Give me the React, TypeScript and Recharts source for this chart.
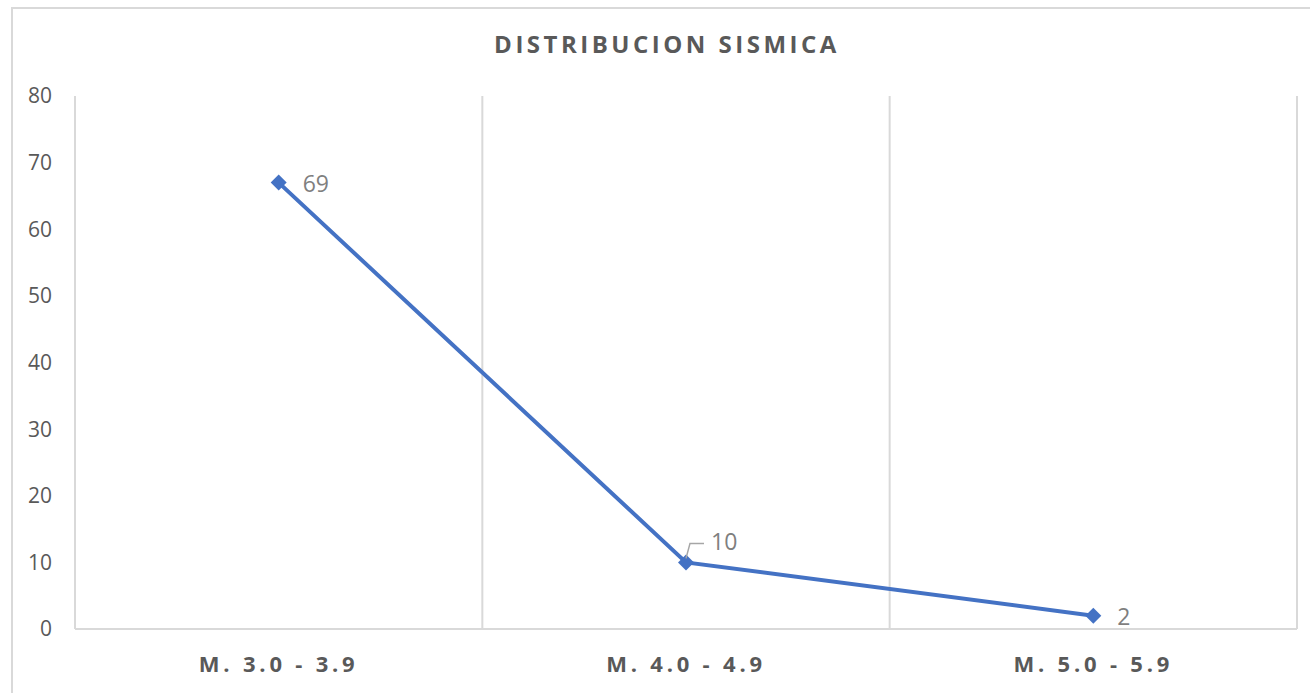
import React from 'react';
import { LineChart, Line, XAxis, YAxis, ReferenceLine } from 'recharts';

// categories sit at the middle of each band; band edges get the light vertical lines
const categories = ['M. 3.0 - 3.9', 'M. 4.0 - 4.9', 'M. 5.0 - 5.9'];
const sismos = [67, 10, 2];
const etiquetas = ['69', '10', '2'];
const yTicks = [0, 10, 20, 30, 40, 50, 60, 70, 80];
const bandEdges = [0, 1, 2, 3];

const data = categories.map((name, i) => ({ pos: i + 0.5, name, value: sismos[i], label: etiquetas[i] }));

const BLUE = '#4472c4';
const GRID = '#d9d9d9';
const TEXT = '#595959';

const Diamond = (props: any) => {
    const { cx, cy, index } = props;
    if (cx == null || cy == null) return null;
    const r = 8;
    return (
        <polygon
            key={`d-${index}`}
            points={`${cx},${cy - r} ${cx + r},${cy} ${cx},${cy + r} ${cx - r},${cy}`}
            fill={BLUE}
        />
    );
};

const ValueLabel = (props: any) => {
    const { x, y, index } = props;
    const txt = etiquetas[index];
    if (index === 1) {
        // label raised above the point, with a small leader line
        return (
            <g>
                <polyline points={`${x},${y - 4} ${x + 4},${y - 19} ${x + 18},${y - 19}`} fill="none" stroke="#a6a6a6" strokeWidth={1.5} />
                <text x={x + 25} y={y - 20} dy="0.35em" fontSize={23} fill="#7f7f7f" fontFamily="'Open Sans', sans-serif">{txt}</text>
            </g>
        );
    }
    return (
        <text x={x + 24} y={y + 1} dy="0.35em" fontSize={23} fill="#7f7f7f" fontFamily="'Open Sans', sans-serif">{txt}</text>
    );
};

export default function App() {
    return (
        <div style={{ position: 'absolute', left: 0, top: 0, width: 1310, height: 693, background: '#fff', overflow: 'hidden', fontFamily: "'Open Sans', sans-serif" }}>
            <div style={{ position: 'absolute', left: 11, top: 7, width: 1320, height: 720, border: `2px solid ${GRID}`, boxSizing: 'border-box' }} />
            <div style={{ position: 'absolute', left: 12, top: 27, width: 1310, textAlign: 'center', fontSize: 24, fontWeight: 700, letterSpacing: 3.5, color: TEXT }}>
                DISTRIBUCION SISMICA
            </div>
            <div style={{ position: 'absolute', left: 0, top: 0 }}>
                <LineChart width={1310} height={693} data={data} margin={{ top: 96, right: 13, bottom: 0, left: 0 }}>
                    <XAxis
                        dataKey="pos"
                        type="number"
                        domain={[0, 3]}
                        ticks={data.map((d) => d.pos)}
                        tickFormatter={(v: number) => categories[Math.floor(v)]}
                        height={64}
                        axisLine={{ stroke: GRID, strokeWidth: 2 }}
                        tickLine={false}
                        tickMargin={21}
                        tick={{ fontSize: 22, fontWeight: 700, fill: TEXT, letterSpacing: 3.8 }}
                    />
                    <YAxis
                        domain={[0, 80]}
                        ticks={yTicks}
                        width={75}
                        axisLine={false}
                        tickLine={false}
                        tickMargin={17}
                        tick={{ fontSize: 21, fill: TEXT }}
                    />
                    {bandEdges.map((e) => (
                        <ReferenceLine key={e} x={e} stroke={GRID} strokeWidth={2} />
                    ))}
                    <Line
                        dataKey="value"
                        stroke={BLUE}
                        strokeWidth={4}
                        dot={<Diamond />}
                        activeDot={false}
                        label={<ValueLabel />}
                        isAnimationActive={false}
                    />
                </LineChart>
            </div>
        </div>
    );
}
